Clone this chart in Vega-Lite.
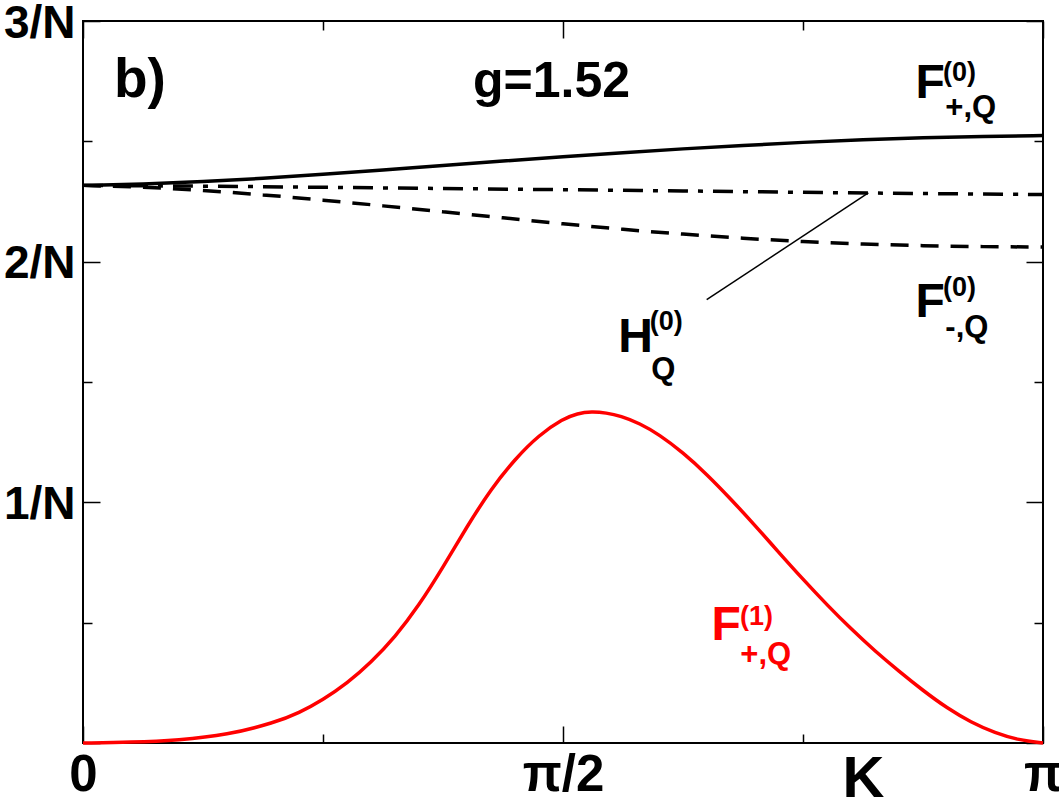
{
  "$schema": "https://vega.github.io/schema/vega-lite/v6.json",
  "width": 960,
  "height": 722,
  "autosize": "none",
  "padding": {"left": 83, "top": 21, "right": 16, "bottom": 57},
  "background": "white",
  "config": {"view": {"stroke": "black", "strokeWidth": 2}, "font": "Liberation Sans"},
  "datasets": {
    "curves": [
      {"curve": "F0+", "K": 0, "value": 2.317},
      {"curve": "F0+", "K": 0.19635, "value": 2.322},
      {"curve": "F0+", "K": 0.3927, "value": 2.332},
      {"curve": "F0+", "K": 0.58905, "value": 2.346},
      {"curve": "F0+", "K": 0.7854, "value": 2.363},
      {"curve": "F0+", "K": 0.98175, "value": 2.381},
      {"curve": "F0+", "K": 1.1781, "value": 2.4},
      {"curve": "F0+", "K": 1.37445, "value": 2.418},
      {"curve": "F0+", "K": 1.5708, "value": 2.436},
      {"curve": "F0+", "K": 1.76715, "value": 2.453},
      {"curve": "F0+", "K": 1.9635, "value": 2.469},
      {"curve": "F0+", "K": 2.15984, "value": 2.483},
      {"curve": "F0+", "K": 2.35619, "value": 2.496},
      {"curve": "F0+", "K": 2.55254, "value": 2.507},
      {"curve": "F0+", "K": 2.74889, "value": 2.515},
      {"curve": "F0+", "K": 2.94524, "value": 2.521},
      {"curve": "F0+", "K": 3.14159, "value": 2.524},
      {"curve": "F0-", "K": 0, "value": 2.317},
      {"curve": "F0-", "K": 0.19635, "value": 2.31},
      {"curve": "F0-", "K": 0.3927, "value": 2.297},
      {"curve": "F0-", "K": 0.58905, "value": 2.278},
      {"curve": "F0-", "K": 0.7854, "value": 2.256},
      {"curve": "F0-", "K": 0.98175, "value": 2.232},
      {"curve": "F0-", "K": 1.1781, "value": 2.207},
      {"curve": "F0-", "K": 1.37445, "value": 2.182},
      {"curve": "F0-", "K": 1.5708, "value": 2.157},
      {"curve": "F0-", "K": 1.76715, "value": 2.134},
      {"curve": "F0-", "K": 1.9635, "value": 2.114},
      {"curve": "F0-", "K": 2.15984, "value": 2.097},
      {"curve": "F0-", "K": 2.35619, "value": 2.083},
      {"curve": "F0-", "K": 2.55254, "value": 2.073},
      {"curve": "F0-", "K": 2.74889, "value": 2.066},
      {"curve": "F0-", "K": 2.94524, "value": 2.062},
      {"curve": "F0-", "K": 3.14159, "value": 2.061},
      {"curve": "H0", "K": 0, "value": 2.317},
      {"curve": "H0", "K": 0.3927, "value": 2.314},
      {"curve": "H0", "K": 0.7854, "value": 2.309},
      {"curve": "H0", "K": 1.1781, "value": 2.304},
      {"curve": "H0", "K": 1.5708, "value": 2.299},
      {"curve": "H0", "K": 1.9635, "value": 2.294},
      {"curve": "H0", "K": 2.35619, "value": 2.288},
      {"curve": "H0", "K": 2.74889, "value": 2.283},
      {"curve": "H0", "K": 3.14159, "value": 2.279},
      {"curve": "F1+", "K": 0, "value": 0},
      {"curve": "F1+", "K": 0.15708, "value": 0.003},
      {"curve": "F1+", "K": 0.31416, "value": 0.012},
      {"curve": "F1+", "K": 0.47124, "value": 0.033},
      {"curve": "F1+", "K": 0.62832, "value": 0.085},
      {"curve": "F1+", "K": 0.70686, "value": 0.125},
      {"curve": "F1+", "K": 0.7854, "value": 0.18},
      {"curve": "F1+", "K": 0.86394, "value": 0.248},
      {"curve": "F1+", "K": 0.94248, "value": 0.335},
      {"curve": "F1+", "K": 1.02102, "value": 0.44},
      {"curve": "F1+", "K": 1.09956, "value": 0.572},
      {"curve": "F1+", "K": 1.1781, "value": 0.73},
      {"curve": "F1+", "K": 1.25664, "value": 0.9},
      {"curve": "F1+", "K": 1.33518, "value": 1.055},
      {"curve": "F1+", "K": 1.41372, "value": 1.18},
      {"curve": "F1+", "K": 1.49226, "value": 1.28},
      {"curve": "F1+", "K": 1.5708, "value": 1.347},
      {"curve": "F1+", "K": 1.61792, "value": 1.37},
      {"curve": "F1+", "K": 1.66504, "value": 1.377},
      {"curve": "F1+", "K": 1.71217, "value": 1.372},
      {"curve": "F1+", "K": 1.75929, "value": 1.359},
      {"curve": "F1+", "K": 1.82212, "value": 1.328},
      {"curve": "F1+", "K": 1.88496, "value": 1.282},
      {"curve": "F1+", "K": 1.9635, "value": 1.207},
      {"curve": "F1+", "K": 2.04204, "value": 1.116},
      {"curve": "F1+", "K": 2.12058, "value": 1.013},
      {"curve": "F1+", "K": 2.19911, "value": 0.904},
      {"curve": "F1+", "K": 2.27765, "value": 0.791},
      {"curve": "F1+", "K": 2.35619, "value": 0.68},
      {"curve": "F1+", "K": 2.43473, "value": 0.574},
      {"curve": "F1+", "K": 2.51327, "value": 0.474},
      {"curve": "F1+", "K": 2.59181, "value": 0.382},
      {"curve": "F1+", "K": 2.67035, "value": 0.298},
      {"curve": "F1+", "K": 2.74889, "value": 0.218},
      {"curve": "F1+", "K": 2.82743, "value": 0.145},
      {"curve": "F1+", "K": 2.90597, "value": 0.086},
      {"curve": "F1+", "K": 2.98451, "value": 0.042},
      {"curve": "F1+", "K": 3.06305, "value": 0.012},
      {"curve": "F1+", "K": 3.14159, "value": 0}
    ],
    "pointer": [
      {"K": 2.041, "value": 1.842, "K2": 2.57, "value2": 2.286}
    ],
    "labels": [
      {"K": 0.1015, "value": 2.684, "text": "b)", "kind": "panel", "curve": ""},
      {"K": 1.2763, "value": 2.684, "text": "g=1.52", "kind": "param", "curve": ""},
      {"K": 2.724, "value": 2.68, "text": "F", "kind": "main", "curve": "F0+"},
      {"K": 2.814, "value": 2.752, "text": "(0)", "kind": "sup", "curve": "F0+"},
      {"K": 2.822, "value": 2.603, "text": "+,Q", "kind": "sub", "curve": "F0+"},
      {"K": 2.724, "value": 1.77, "text": "F", "kind": "main", "curve": "F0-"},
      {"K": 2.814, "value": 1.859, "text": "(0)", "kind": "sup", "curve": "F0-"},
      {"K": 2.822, "value": 1.689, "text": "-,Q", "kind": "sub", "curve": "F0-"},
      {"K": 1.752, "value": 1.624, "text": "H", "kind": "main", "curve": "H0"},
      {"K": 1.855, "value": 1.714, "text": "(0)", "kind": "sup", "curve": "H0"},
      {"K": 1.86, "value": 1.514, "text": "Q", "kind": "sub", "curve": "H0"},
      {"K": 2.057, "value": 0.428, "text": "F", "kind": "main", "curve": "F1+"},
      {"K": 2.15, "value": 0.492, "text": "(1)", "kind": "sup", "curve": "F1+"},
      {"K": 2.151, "value": 0.33, "text": "+,Q", "kind": "sub", "curve": "F1+"}
    ]
  },
  "encoding": {
    "x": {"field": "K", "type": "quantitative", "scale": {"domain": [0, 3.141593], "nice": false, "zero": false}, "axis": null},
    "y": {"field": "value", "type": "quantitative", "scale": {"domain": [0, 3], "nice": false, "zero": false}, "axis": null}
  },
  "layer": [
    {
      "data": {"name": "curves"},
      "transform": [{"filter": "datum.curve === 'F0+'"}],
      "mark": {"type": "line", "color": "black", "strokeWidth": 3.5, "interpolate": "basis"},
      "encoding": {
        "x": {
          "field": "K", "type": "quantitative",
          "scale": {"domain": [0, 3.141593], "nice": false, "zero": false},
          "axis": {
            "orient": "bottom", "values": [0, 0.785398, 1.570796, 2.356194, 3.141593],
            "domain": false, "grid": false,
            "tickSize": {"condition": {"test": "datum.value < 0.01 || datum.value > 3.1 || abs(datum.value - 1.570796) < 0.01", "value": -17}, "value": -9},
            "tickWidth": 1.5, "tickColor": "black",
            "labelExpr": "datum.value < 0.01 ? '0' : abs(datum.value - 1.570796) < 0.01 ? 'π/2' : datum.value > 3.1 ? 'π' : ''",
            "labelFont": "Liberation Sans", "labelFontWeight": "bold", "labelFontSize": 51, "labelColor": "black",
            "labelPadding": 24, "labelFlush": false, "labelOverlap": false, "labelBound": false,
            "title": "K", "titleFont": "Liberation Sans", "titleFontWeight": "bold", "titleFontSize": 58, "titleColor": "black",
            "titleX": 780, "titleY": 53, "titleBaseline": "alphabetic", "titleAlign": "center", "titleAngle": 0
          }
        },
        "y": {
          "field": "value", "type": "quantitative",
          "scale": {"domain": [0, 3], "nice": false, "zero": false},
          "axis": {
            "orient": "left", "values": [0, 0.5, 1, 1.5, 2, 2.5, 3],
            "domain": false, "grid": false,
            "tickSize": {"condition": {"test": "datum.value % 1 === 0", "value": -17}, "value": -9},
            "tickWidth": 1.5, "tickColor": "black",
            "labelExpr": "datum.value === 1 ? '1/N' : datum.value === 2 ? '2/N' : datum.value === 3 ? '3/N' : ''",
            "labelFont": "Liberation Sans", "labelFontWeight": "bold", "labelFontSize": 46, "labelColor": "black",
            "labelPadding": 25, "labelOffset": 2, "labelOverlap": false, "labelBound": false, "labelFlush": false,
            "title": null
          }
        }
      }
    },
    {
      "data": {"name": "curves"},
      "transform": [{"filter": "datum.curve === 'H0'"}],
      "mark": {"type": "line", "color": "black", "strokeWidth": 3.5, "strokeDash": [20, 10, 5, 10], "interpolate": "basis"}
    },
    {
      "data": {"name": "curves"},
      "transform": [{"filter": "datum.curve === 'F0-'"}],
      "mark": {"type": "line", "color": "black", "strokeWidth": 3.5, "strokeDash": [18, 12], "interpolate": "basis"}
    },
    {
      "data": {"name": "curves"},
      "transform": [{"filter": "datum.curve === 'F1+'"}],
      "mark": {"type": "line", "color": "#ff0000", "strokeWidth": 3.5, "interpolate": "basis"},
      "encoding": {
        "x": {
          "field": "K", "type": "quantitative",
          "scale": {"domain": [0, 3.141593], "nice": false, "zero": false},
          "axis": {
            "orient": "top", "values": [0, 0.785398, 1.570796, 2.356194, 3.141593],
            "domain": false, "grid": false, "labels": false, "title": null,
            "tickSize": {"condition": {"test": "datum.value < 0.01 || datum.value > 3.1 || abs(datum.value - 1.570796) < 0.01", "value": -17}, "value": -9},
            "tickWidth": 1.5, "tickColor": "black"
          }
        },
        "y": {
          "field": "value", "type": "quantitative",
          "scale": {"domain": [0, 3], "nice": false, "zero": false},
          "axis": {
            "orient": "right", "values": [0, 0.5, 1, 1.5, 2, 2.5, 3],
            "domain": false, "grid": false, "labels": false, "title": null,
            "tickSize": {"condition": {"test": "datum.value % 1 === 0", "value": -17}, "value": -9},
            "tickWidth": 1.5, "tickColor": "black"
          }
        }
      }
    },
    {
      "data": {"name": "pointer"},
      "mark": {"type": "rule", "color": "black", "strokeWidth": 1.5},
      "encoding": {
        "x2": {"field": "K2"},
        "y2": {"field": "value2"}
      }
    },
    {
      "data": {"name": "labels"},
      "transform": [{"filter": "datum.kind === 'panel'"}],
      "mark": {"type": "text", "align": "left", "baseline": "alphabetic", "font": "Liberation Sans", "fontWeight": "bold", "fontSize": 55, "color": "black"},
      "encoding": {"text": {"field": "text"}}
    },
    {
      "data": {"name": "labels"},
      "transform": [{"filter": "datum.kind === 'param'"}],
      "mark": {"type": "text", "align": "left", "baseline": "alphabetic", "font": "Liberation Sans", "fontWeight": "bold", "fontSize": 50, "color": "black"},
      "encoding": {"text": {"field": "text"}}
    },
    {
      "data": {"name": "labels"},
      "transform": [{"filter": "datum.kind === 'main'"}],
      "mark": {"type": "text", "align": "left", "baseline": "alphabetic", "font": "Liberation Sans", "fontWeight": "bold", "fontSize": 48},
      "encoding": {
        "text": {"field": "text"},
        "color": {"condition": {"test": "datum.curve === 'F1+'", "value": "#ff0000"}, "value": "black"}
      }
    },
    {
      "data": {"name": "labels"},
      "transform": [{"filter": "datum.kind === 'sup'"}],
      "mark": {"type": "text", "align": "left", "baseline": "alphabetic", "font": "Liberation Sans", "fontWeight": "bold", "fontSize": 27},
      "encoding": {
        "text": {"field": "text"},
        "color": {"condition": {"test": "datum.curve === 'F1+'", "value": "#ff0000"}, "value": "black"}
      }
    },
    {
      "data": {"name": "labels"},
      "transform": [{"filter": "datum.kind === 'sub'"}],
      "mark": {"type": "text", "align": "left", "baseline": "alphabetic", "font": "Liberation Sans", "fontWeight": "bold", "fontSize": 31},
      "encoding": {
        "text": {"field": "text"},
        "color": {"condition": {"test": "datum.curve === 'F1+'", "value": "#ff0000"}, "value": "black"}
      }
    }
  ],
  "resolve": {"axis": {"x": "independent", "y": "independent"}}
}
